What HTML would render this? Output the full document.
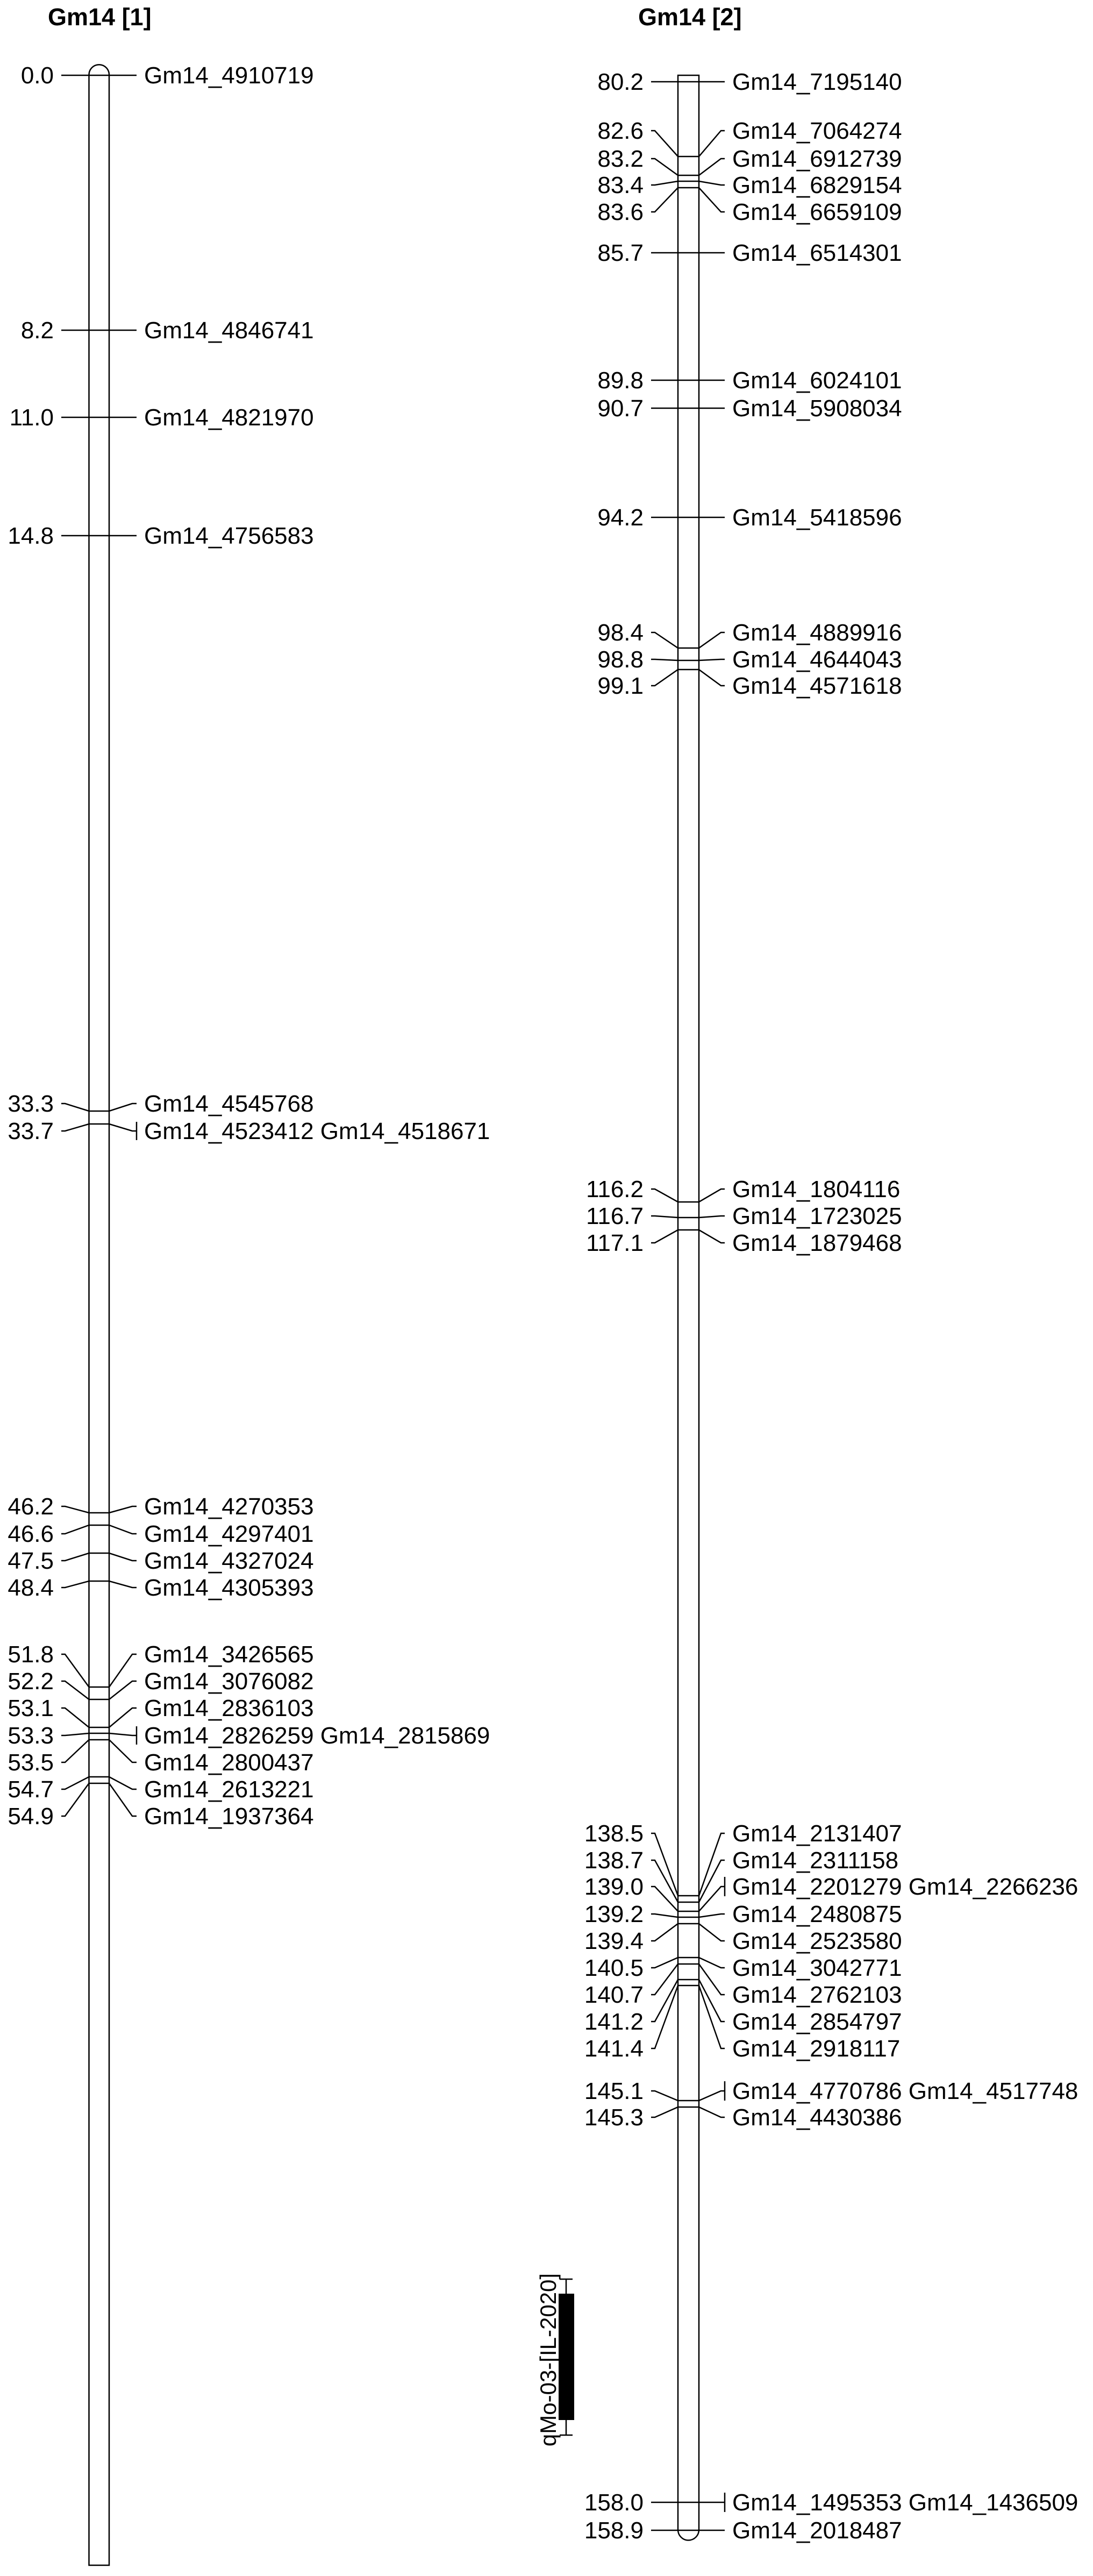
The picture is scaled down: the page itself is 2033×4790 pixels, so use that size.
<!DOCTYPE html>
<html><head><meta charset="utf-8"><style>
html,body{margin:0;padding:0;background:#fff;}
svg{display:block;}
text{font-family:"Liberation Sans",Arial,sans-serif;fill:#000;}
.n{font-size:44px;}
.t{font-size:45px;font-weight:bold;}
</style></head><body>
<svg width="2033" height="4790" viewBox="0 0 2033 4790" xmlns="http://www.w3.org/2000/svg">
<g fill="none" stroke="#000" stroke-width="2.5">
<path d="M165.5,4770 V139 A18.75,18.75 0 0 1 203,139 V4770 Z"/>
<path d="M1261,140 H1300 V4704 A19.5,19.5 0 0 1 1261,4704 Z"/>
<polyline points="114,140 121,140 165.5,140 203,140 246,140 254,140"/>
<polyline points="114,614 121,614 165.5,614 203,614 246,614 254,614"/>
<polyline points="114,776 121,776 165.5,776 203,776 246,776 254,776"/>
<polyline points="114,996 121,996 165.5,996 203,996 246,996 254,996"/>
<polyline points="114,2052 121,2052 165.5,2066 203,2066 246,2052 254,2052"/>
<polyline points="114,2103 121,2103 165.5,2090 203,2090 246,2103 254,2103"/>
<line x1="254" y1="2086" x2="254" y2="2120"/>
<polyline points="114,2801 121,2801 165.5,2813 203,2813 246,2801 254,2801"/>
<polyline points="114,2852 121,2852 165.5,2836 203,2836 246,2852 254,2852"/>
<polyline points="114,2902 121,2902 165.5,2888 203,2888 246,2902 254,2902"/>
<polyline points="114,2952 121,2952 165.5,2940 203,2940 246,2952 254,2952"/>
<polyline points="114,3076 121,3076 165.5,3137 203,3137 246,3076 254,3076"/>
<polyline points="114,3126 121,3126 165.5,3160 203,3160 246,3126 254,3126"/>
<polyline points="114,3176 121,3176 165.5,3212 203,3212 246,3176 254,3176"/>
<polyline points="114,3227 121,3227 165.5,3223 203,3223 246,3227 254,3227"/>
<line x1="254" y1="3210" x2="254" y2="3244"/>
<polyline points="114,3277 121,3277 165.5,3235 203,3235 246,3277 254,3277"/>
<polyline points="114,3327 121,3327 165.5,3304 203,3304 246,3327 254,3327"/>
<polyline points="114,3377 121,3377 165.5,3316 203,3316 246,3377 254,3377"/>
<polyline points="1211,152 1218,152 1261,152 1300,152 1341,152 1348,152"/>
<polyline points="1211,243 1218,243 1261,291 1300,291 1341,243 1348,243"/>
<polyline points="1211,295 1218,295 1261,326 1300,326 1341,295 1348,295"/>
<polyline points="1211,344 1218,344 1261,337 1300,337 1341,344 1348,344"/>
<polyline points="1211,394 1218,394 1261,349 1300,349 1341,394 1348,394"/>
<polyline points="1211,470 1218,470 1261,470 1300,470 1341,470 1348,470"/>
<polyline points="1211,707 1218,707 1261,707 1300,707 1341,707 1348,707"/>
<polyline points="1211,759 1218,759 1261,759 1300,759 1341,759 1348,759"/>
<polyline points="1211,962 1218,962 1261,962 1300,962 1341,962 1348,962"/>
<polyline points="1211,1176 1218,1176 1261,1205 1300,1205 1341,1176 1348,1176"/>
<polyline points="1211,1226 1218,1226 1261,1228 1300,1228 1341,1226 1348,1226"/>
<polyline points="1211,1275 1218,1275 1261,1245 1300,1245 1341,1275 1348,1275"/>
<polyline points="1211,2211 1218,2211 1261,2235 1300,2235 1341,2211 1348,2211"/>
<polyline points="1211,2261 1218,2261 1261,2264 1300,2264 1341,2261 1348,2261"/>
<polyline points="1211,2311 1218,2311 1261,2287 1300,2287 1341,2311 1348,2311"/>
<polyline points="1211,3409 1218,3409 1261,3525 1300,3525 1341,3409 1348,3409"/>
<polyline points="1211,3459 1218,3459 1261,3537 1300,3537 1341,3459 1348,3459"/>
<polyline points="1211,3508 1218,3508 1261,3554 1300,3554 1341,3508 1348,3508"/>
<line x1="1348" y1="3490" x2="1348" y2="3526"/>
<polyline points="1211,3559 1218,3559 1261,3565 1300,3565 1341,3559 1348,3559"/>
<polyline points="1211,3609 1218,3609 1261,3577 1300,3577 1341,3609 1348,3609"/>
<polyline points="1211,3659 1218,3659 1261,3640 1300,3640 1341,3659 1348,3659"/>
<polyline points="1211,3709 1218,3709 1261,3652 1300,3652 1341,3709 1348,3709"/>
<polyline points="1211,3759 1218,3759 1261,3681 1300,3681 1341,3759 1348,3759"/>
<polyline points="1211,3809 1218,3809 1261,3692 1300,3692 1341,3809 1348,3809"/>
<polyline points="1211,3888 1218,3888 1261,3906 1300,3906 1341,3888 1348,3888"/>
<line x1="1348" y1="3870" x2="1348" y2="3906"/>
<polyline points="1211,3937 1218,3937 1261,3918 1300,3918 1341,3937 1348,3937"/>
<polyline points="1211,4653 1218,4653 1261,4653 1300,4653 1341,4653 1348,4653"/>
<line x1="1348" y1="4635" x2="1348" y2="4671"/>
<polyline points="1211,4705 1218,4705 1261,4705 1300,4705 1341,4705 1348,4705"/>
<line x1="1053" y1="4238" x2="1053" y2="4528"/>
<line x1="1041" y1="4238" x2="1065" y2="4238"/>
<line x1="1041" y1="4528" x2="1065" y2="4528"/>
</g>
<rect x="1039" y="4265" width="29" height="235" fill="#000"/>
<text x="0" y="0" font-size="42" text-anchor="middle" transform="translate(1034,4388) rotate(-90)">qMo-03-[IL-2020]</text>

<text class="t" x="89" y="47">Gm14 [1]</text>
<text class="t" x="1187" y="47">Gm14 [2]</text>

<g class="n" text-anchor="end">
<text x="100" y="155">0.0</text>
<text x="100" y="629">8.2</text>
<text x="100" y="791">11.0</text>
<text x="100" y="1011">14.8</text>
<text x="100" y="2067">33.3</text>
<text x="100" y="2118">33.7</text>
<text x="100" y="2816">46.2</text>
<text x="100" y="2867">46.6</text>
<text x="100" y="2917">47.5</text>
<text x="100" y="2967">48.4</text>
<text x="100" y="3091">51.8</text>
<text x="100" y="3141">52.2</text>
<text x="100" y="3191">53.1</text>
<text x="100" y="3242">53.3</text>
<text x="100" y="3292">53.5</text>
<text x="100" y="3342">54.7</text>
<text x="100" y="3392">54.9</text>
<text x="1197" y="167">80.2</text>
<text x="1197" y="258">82.6</text>
<text x="1197" y="310">83.2</text>
<text x="1197" y="359">83.4</text>
<text x="1197" y="409">83.6</text>
<text x="1197" y="485">85.7</text>
<text x="1197" y="722">89.8</text>
<text x="1197" y="774">90.7</text>
<text x="1197" y="977">94.2</text>
<text x="1197" y="1191">98.4</text>
<text x="1197" y="1241">98.8</text>
<text x="1197" y="1290">99.1</text>
<text x="1197" y="2226">116.2</text>
<text x="1197" y="2276">116.7</text>
<text x="1197" y="2326">117.1</text>
<text x="1197" y="3424">138.5</text>
<text x="1197" y="3474">138.7</text>
<text x="1197" y="3523">139.0</text>
<text x="1197" y="3574">139.2</text>
<text x="1197" y="3624">139.4</text>
<text x="1197" y="3674">140.5</text>
<text x="1197" y="3724">140.7</text>
<text x="1197" y="3774">141.2</text>
<text x="1197" y="3824">141.4</text>
<text x="1197" y="3903">145.1</text>
<text x="1197" y="3952">145.3</text>
<text x="1197" y="4668">158.0</text>
<text x="1197" y="4720">158.9</text>
</g>

<g class="n">
<text x="268" y="155">Gm14_4910719</text>
<text x="268" y="629">Gm14_4846741</text>
<text x="268" y="791">Gm14_4821970</text>
<text x="268" y="1011">Gm14_4756583</text>
<text x="268" y="2067">Gm14_4545768</text>
<text x="268" y="2118">Gm14_4523412 Gm14_4518671</text>
<text x="268" y="2816">Gm14_4270353</text>
<text x="268" y="2867">Gm14_4297401</text>
<text x="268" y="2917">Gm14_4327024</text>
<text x="268" y="2967">Gm14_4305393</text>
<text x="268" y="3091">Gm14_3426565</text>
<text x="268" y="3141">Gm14_3076082</text>
<text x="268" y="3191">Gm14_2836103</text>
<text x="268" y="3242">Gm14_2826259 Gm14_2815869</text>
<text x="268" y="3292">Gm14_2800437</text>
<text x="268" y="3342">Gm14_2613221</text>
<text x="268" y="3392">Gm14_1937364</text>
<text x="1362" y="167">Gm14_7195140</text>
<text x="1362" y="258">Gm14_7064274</text>
<text x="1362" y="310">Gm14_6912739</text>
<text x="1362" y="359">Gm14_6829154</text>
<text x="1362" y="409">Gm14_6659109</text>
<text x="1362" y="485">Gm14_6514301</text>
<text x="1362" y="722">Gm14_6024101</text>
<text x="1362" y="774">Gm14_5908034</text>
<text x="1362" y="977">Gm14_5418596</text>
<text x="1362" y="1191">Gm14_4889916</text>
<text x="1362" y="1241">Gm14_4644043</text>
<text x="1362" y="1290">Gm14_4571618</text>
<text x="1362" y="2226">Gm14_1804116</text>
<text x="1362" y="2276">Gm14_1723025</text>
<text x="1362" y="2326">Gm14_1879468</text>
<text x="1362" y="3424">Gm14_2131407</text>
<text x="1362" y="3474">Gm14_2311158</text>
<text x="1362" y="3523">Gm14_2201279 Gm14_2266236</text>
<text x="1362" y="3574">Gm14_2480875</text>
<text x="1362" y="3624">Gm14_2523580</text>
<text x="1362" y="3674">Gm14_3042771</text>
<text x="1362" y="3724">Gm14_2762103</text>
<text x="1362" y="3774">Gm14_2854797</text>
<text x="1362" y="3824">Gm14_2918117</text>
<text x="1362" y="3903">Gm14_4770786 Gm14_4517748</text>
<text x="1362" y="3952">Gm14_4430386</text>
<text x="1362" y="4668">Gm14_1495353 Gm14_1436509</text>
<text x="1362" y="4720">Gm14_2018487</text>
</g>
</svg>
</body></html>
